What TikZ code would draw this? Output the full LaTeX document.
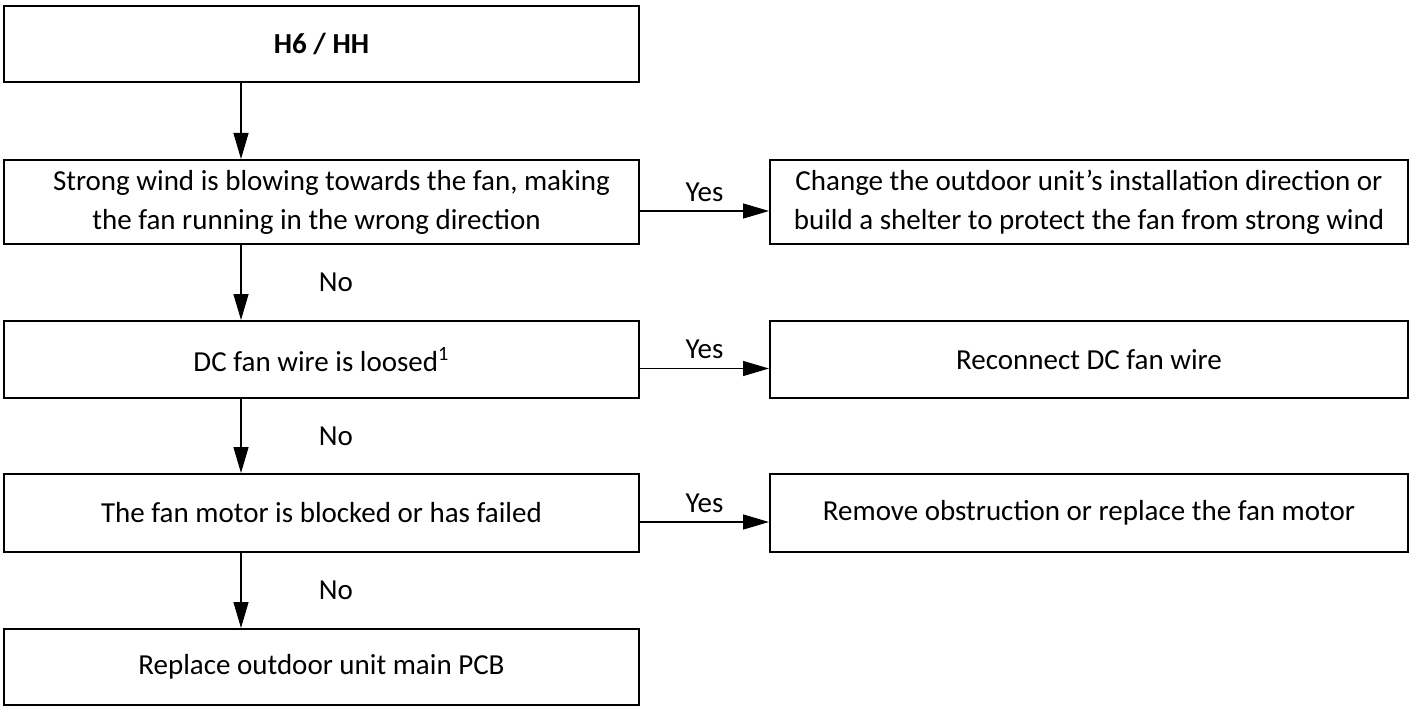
\documentclass[tikz,border=0pt]{standalone}
\usepackage{fontspec}
\setmainfont{Carlito}
\usetikzlibrary{arrows.meta}
\begin{document}
\begin{tikzpicture}[x=0.5pt,y=-0.5pt,
  box/.style={draw, line width=1pt, inner sep=0pt, align=center,
    font=\fontsize{14.5}{19.5}\selectfont},
  lbox/.style={box, minimum width=317.5pt},
  rbox/.style={box, minimum width=319pt},
  arr/.style={-{Triangle[length=13pt,width=7.5pt]}, line width=0.65pt},
  lbl/.style={font=\fontsize{14.5}{19.5}\selectfont, inner sep=0pt}]
\useasboundingbox (0,0) rectangle (1413,706);
\fill[white] (0,0) rectangle (1413,706);
\coordinate (ax) at (241,0);

\node[lbox, minimum height=38pt] (b1) at (321.5,44) {\textbf{H6 / HH}};
\node[lbox, minimum height=42pt] (b2) at (321.5,202)
  {\hspace*{10pt}Strong wind is blowing towards the fan, making\\the fan running in the wrong direction\hspace*{5pt}};
\node[lbox, minimum height=38.5pt] (b3) at (321.5,359.5) {DC fan wire is loosed\textsuperscript{1}};
\node[lbox, minimum height=39pt] (b4) at (321.5,513) {The fan motor is blocked or has failed};
\node[lbox, minimum height=38pt] (b5) at (321.5,667) {Replace outdoor unit main PCB};

\node[rbox, minimum height=42pt] (r2) at (1089,202)
  {Change the outdoor unit’s installation direction or\\build a shelter to protect the fan from strong wind};
\node[rbox, minimum height=38.5pt] (r3) at (1089,359.5) {Reconnect DC fan wire};
\node[rbox, minimum height=39pt] (r4) at (1089,513) {Remove obstruction or replace the fan motor};

\draw[arr] (b1.south -| ax) -- (b2.north -| ax);
\draw[arr] (b2.south -| ax) -- node[lbl, xshift=47.5pt] (n1) {No} (b3.north -| ax);
\draw[arr] (b3.south -| ax) -- node[lbl, xshift=47.5pt] (n2) {No} (b4.north -| ax);
\draw[arr] (b4.south -| ax) -- node[lbl, xshift=47.5pt] (n3) {No} (b5.north -| ax);

\draw[arr] ([yshift=-4.5pt]b2.east) -- node[lbl, anchor=base, yshift=5pt] (y1) {Yes} ([yshift=-4.5pt]r2.west);
\draw[arr] ([yshift=-4.5pt]b3.east) -- node[lbl, anchor=base, yshift=5pt] (y2) {Yes} ([yshift=-4.5pt]r3.west);
\draw[arr] ([yshift=-4.5pt]b4.east) -- node[lbl, anchor=base, yshift=5pt] (y3) {Yes} ([yshift=-4.5pt]r4.west);
\end{tikzpicture}
\end{document}
